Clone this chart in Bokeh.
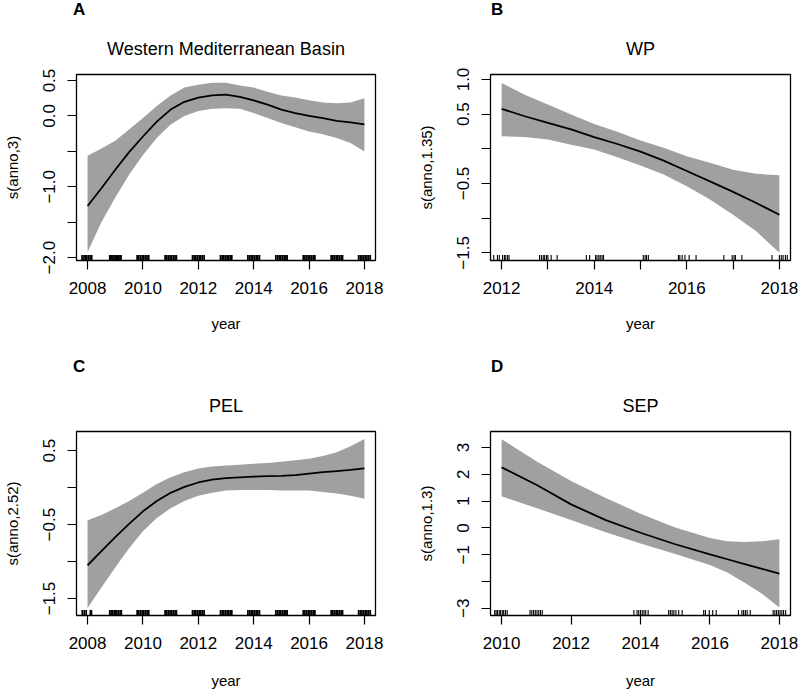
from bokeh.plotting import figure
from bokeh.models import Range1d, FixedTicker, Div, CustomJSTickFormatter
from bokeh.layouts import column, row
from bokeh.embed import file_html
from bokeh.resources import INLINE

FONT = "Liberation Sans"
BAND = "#a0a0a0"

# ---------------- Panel A: Western Mediterranean Basin ----------------
xA = [2008, 2008.5, 2009, 2009.5, 2010, 2010.5, 2011, 2011.5, 2012, 2012.5, 2013,
      2013.5, 2014, 2014.5, 2015, 2015.5, 2016, 2016.5, 2017, 2017.5, 2018]
fitA = [-1.27, -1.02, -0.76, -0.51, -0.29, -0.08, 0.09, 0.20, 0.26, 0.29, 0.30,
        0.27, 0.22, 0.16, 0.09, 0.04, 0.00, -0.03, -0.07, -0.09, -0.12]
hiA = [-0.56, -0.46, -0.35, -0.19, -0.03, 0.14, 0.29, 0.40, 0.44, 0.47, 0.47,
       0.43, 0.40, 0.34, 0.29, 0.26, 0.22, 0.19, 0.18, 0.19, 0.25]
loA = [-1.92, -1.50, -1.15, -0.83, -0.55, -0.31, -0.12, 0.00, 0.07, 0.10, 0.11,
       0.10, 0.04, -0.03, -0.10, -0.16, -0.22, -0.26, -0.31, -0.38, -0.50]
rugA = [2007.80, 2007.87, 2007.92, 2007.97, 2008.03, 2008.09, 2008.15,
        2008.80, 2008.84, 2008.88, 2008.93, 2008.99, 2009.03, 2009.07, 2009.12, 2009.17, 2009.21,
        2009.79, 2009.85, 2009.91, 2009.97, 2010.03, 2010.09, 2010.15, 2010.21,
        2010.80, 2010.86, 2010.92, 2010.98, 2011.04, 2011.10, 2011.16, 2011.21,
        2011.79, 2011.85, 2011.91, 2011.97, 2012.03, 2012.09, 2012.15, 2012.21,
        2012.80, 2012.86, 2012.92, 2012.98, 2013.04, 2013.10, 2013.16, 2013.21,
        2013.79, 2013.85, 2013.91, 2013.97, 2014.03, 2014.09, 2014.15, 2014.21,
        2014.80, 2014.86, 2014.92, 2014.98, 2015.04, 2015.10, 2015.16, 2015.21,
        2015.79, 2015.85, 2015.91, 2015.97, 2016.03, 2016.09, 2016.15, 2016.21,
        2016.80, 2016.86, 2016.92, 2016.98, 2017.04, 2017.10, 2017.16, 2017.21,
        2017.79, 2017.85, 2017.91, 2017.97, 2018.03, 2018.09, 2018.15, 2018.21]
xlimA = (2007.6, 2018.4)
ylimA = (-2.04, 0.585)
xticksA = [2008, 2010, 2012, 2014, 2016, 2018]
xlabelsA = ["2008", "2010", "2012", "2014", "2016", "2018"]
yticksA = [-2.0, -1.5, -1.0, -0.5, 0.0, 0.5]
ylabelsA = ["\u22122.0", "", "\u22121.0", "", "0.0", "0.5"]

# ---------------- Panel B: WP ----------------
xB = [2012, 2012.5, 2013, 2013.5, 2014, 2014.5, 2015, 2015.5, 2016, 2016.5, 2017, 2017.5, 2018]
fitB = [0.577, 0.47, 0.375, 0.28, 0.17, 0.07, -0.04, -0.17, -0.32, -0.47, -0.62, -0.78, -0.95]
hiB = [0.95, 0.78, 0.64, 0.495, 0.36, 0.245, 0.12, 0.015, -0.105, -0.20, -0.30, -0.36, -0.38]
loB = [0.18, 0.17, 0.135, 0.06, -0.01, -0.12, -0.24, -0.37, -0.54, -0.73, -0.95, -1.19, -1.50]
rugB = [2011.83, 2011.91, 2011.95, 2012.02, 2012.06, 2012.09, 2012.13, 2012.16,
        2012.82, 2012.86, 2012.90, 2012.93, 2012.97, 2013.00, 2013.07, 2013.20,
        2013.83, 2013.90, 2014.03, 2014.06, 2014.10, 2014.13, 2014.17, 2014.20,
        2015.06, 2015.10, 2015.13, 2015.17,
        2015.82, 2015.85, 2015.90, 2015.96, 2016.05, 2016.20,
        2016.80, 2016.98, 2017.02, 2017.05, 2017.19,
        2017.84, 2018.00, 2018.04, 2018.08, 2018.13, 2018.17]
xlimB = (2011.76, 2018.24)
ylimB = (-1.61, 1.072)
xticksB = [2012, 2013, 2014, 2015, 2016, 2017, 2018]
xlabelsB = ["2012", "", "2014", "", "2016", "", "2018"]
yticksB = [-1.5, -1.0, -0.5, 0.0, 0.5, 1.0]
ylabelsB = ["\u22121.5", "", "\u22120.5", "", "0.5", "1.0"]

# ---------------- Panel C: PEL ----------------
xC = xA
fitC = [-1.05, -0.86, -0.67, -0.49, -0.32, -0.18, -0.07, 0.01, 0.07, 0.11, 0.13,
        0.14, 0.15, 0.155, 0.16, 0.17, 0.19, 0.21, 0.225, 0.24, 0.26]
hiC = [-0.44, -0.37, -0.28, -0.18, -0.07, 0.05, 0.14, 0.21, 0.26, 0.285, 0.30,
       0.31, 0.325, 0.335, 0.35, 0.37, 0.39, 0.43, 0.48, 0.56, 0.66]
loC = [-1.63, -1.35, -1.08, -0.82, -0.59, -0.41, -0.28, -0.18, -0.11, -0.07, -0.04,
       -0.03, -0.03, -0.03, -0.04, -0.04, -0.04, -0.06, -0.08, -0.11, -0.15]
rugC = [2007.81, 2007.88, 2007.95, 2008.10, 2008.14,
        2008.80, 2008.85, 2008.90, 2008.96, 2009.01, 2009.06, 2009.12, 2009.18, 2009.22,
        2009.79, 2009.85, 2009.91, 2009.97, 2010.03, 2010.09, 2010.15, 2010.21,
        2010.80, 2010.86, 2010.92, 2010.98, 2011.04, 2011.10, 2011.16, 2011.21,
        2011.79, 2011.85, 2011.91, 2011.97, 2012.03, 2012.09, 2012.15, 2012.21,
        2012.80, 2012.86, 2012.92, 2012.98, 2013.04, 2013.10, 2013.16, 2013.21,
        2013.79, 2013.85, 2013.91, 2013.97, 2014.03, 2014.09, 2014.15, 2014.21,
        2014.80, 2014.86, 2014.92, 2014.98, 2015.04, 2015.10, 2015.16, 2015.21,
        2015.79, 2015.85, 2015.91, 2015.97, 2016.03, 2016.09, 2016.15, 2016.21,
        2016.80, 2016.86, 2016.92, 2016.98, 2017.04, 2017.10, 2017.16, 2017.21,
        2017.79, 2017.85, 2017.91, 2017.97, 2018.03, 2018.09, 2018.15, 2018.21]
xlimC = (2007.6, 2018.4)
ylimC = (-1.73, 0.76)
xticksC = xticksA
xlabelsC = xlabelsA
yticksC = [-1.5, -1.0, -0.5, 0.0, 0.5]
ylabelsC = ["\u22121.5", "", "\u22120.5", "", "0.5"]

# ---------------- Panel D: SEP ----------------
xD = [2010, 2011, 2012, 2013, 2014, 2015, 2016, 2016.5, 2017, 2017.5, 2018]
fitD = [2.26, 1.61, 0.88, 0.29, -0.18, -0.61, -0.99, -1.17, -1.35, -1.53, -1.71]
hiD = [3.31, 2.49, 1.75, 1.12, 0.53, 0.02, -0.38, -0.50, -0.53, -0.50, -0.42]
loD = [1.18, 0.74, 0.30, -0.16, -0.58, -0.97, -1.38, -1.66, -2.05, -2.46, -2.97]
rugD = [2009.80, 2009.84, 2009.88, 2009.93, 2009.97, 2010.02, 2010.06, 2010.11, 2010.16,
        2010.82, 2010.87, 2010.92, 2010.97, 2011.02, 2011.07, 2011.12, 2011.17,
        2013.81, 2013.90, 2013.95, 2014.00, 2014.05, 2014.10, 2014.15, 2014.22,
        2014.81, 2014.86, 2014.91, 2014.96, 2015.02, 2015.10, 2015.20,
        2015.82, 2015.87, 2015.98, 2016.08, 2016.18,
        2016.82, 2016.92, 2016.97, 2017.02, 2017.07, 2017.16,
        2017.82, 2017.87, 2017.92, 2017.97, 2018.02, 2018.07, 2018.12, 2018.18]
xlimD = (2009.68, 2018.32)
ylimD = (-3.27, 3.6)
xticksD = [2010, 2012, 2014, 2016, 2018]
xlabelsD = ["2010", "2012", "2014", "2016", "2018"]
yticksD = [-3, -2, -1, 0, 1, 2, 3]
ylabelsD = ["\u22123", "", "\u22121", "0", "1", "2", "3"]

LABEL_JS = """
for (let i = 0; i < t.length; i++) {
  if (Math.abs(t[i] - tick) < 1e-6) { return l[i]; }
}
return "";
"""

LETTER_H = 19


def panel(letter, title, ylab, x, fit, lo, hi, rug, xlim, ylim, xticks, xlabels,
          yticks, ylabels, width, height, mb, ylab_standoff, xlab_standoff, rug_w):
    p = figure(width=width, height=height - LETTER_H, x_range=Range1d(*xlim),
               y_range=Range1d(*ylim),
               output_backend="svg", toolbar_location=None, title=title,
               min_border_left=mb[0], min_border_right=mb[1],
               min_border_top=mb[2] - LETTER_H, min_border_bottom=mb[3])
    p.title.align = "center"
    p.title.text_font = FONT
    p.title.text_font_size = "18px"
    p.title.text_font_style = "normal"
    p.title.text_color = "black"
    p.title.standoff = 32

    p.varea(x=x, y1=lo, y2=hi, fill_color=BAND, fill_alpha=1.0)
    p.line(x=x, y=fit, line_color="black", line_width=1.8)
    r0 = ylim[0]
    r1 = ylim[0] + 0.03 * (ylim[1] - ylim[0])
    p.segment(x0=rug, x1=rug, y0=[r0] * len(rug), y1=[r1] * len(rug),
              line_color="black", line_width=rug_w)

    p.xgrid.visible = False
    p.ygrid.visible = False
    p.outline_line_color = "black"
    p.outline_line_width = 1.3
    p.background_fill_color = "white"
    p.border_fill_color = "white"

    for ax in (p.xaxis[0], p.yaxis[0]):
        ax.axis_line_color = None
        ax.major_tick_out = 9
        ax.major_tick_in = 0
        ax.major_tick_line_color = "black"
        ax.major_tick_line_width = 1.2
        ax.minor_tick_line_color = None
        ax.major_label_text_font = FONT
        ax.major_label_text_font_size = "17px"
        ax.major_label_text_color = "black"
        ax.axis_label_text_font = FONT
        ax.axis_label_text_font_size = "15px"
        ax.axis_label_text_font_style = "normal"
        ax.axis_label_text_color = "black"

    xa = p.xaxis[0]
    xa.ticker = FixedTicker(ticks=xticks)
    xa.formatter = CustomJSTickFormatter(args=dict(t=xticks, l=xlabels), code=LABEL_JS)
    xa.major_label_standoff = 12
    xa.axis_label = "year"
    xa.axis_label_standoff = xlab_standoff

    ya = p.yaxis[0]
    ya.ticker = FixedTicker(ticks=yticks)
    ya.formatter = CustomJSTickFormatter(args=dict(t=yticks, l=ylabels), code=LABEL_JS)
    ya.major_label_orientation = "vertical"
    ya.major_label_standoff = 12
    ya.axis_label = ylab
    ya.axis_label_standoff = ylab_standoff

    head = Div(text=letter, width=width, height=LETTER_H, margin=0,
               styles={"font-family": FONT, "font-size": "17px", "font-weight": "bold",
                       "color": "black", "line-height": f"{LETTER_H + 1}px",
                       "padding-left": f"{mb[0] + 1}px", "box-sizing": "border-box"})
    return column(head, p, spacing=0)


pA = panel("A", "Western Mediterranean Basin", "s(anno,3)", xA, fitA, loA, hiA, rugA,
           xlimA, ylimA, xticksA, xlabelsA, yticksA, ylabelsA,
           408, 357, (72, 33, 74, 97), 20, 18, 1.7)
pB = panel("B", "WP", "s(anno,1.35)", xB, fitB, loB, hiB, rugB,
           xlimB, ylimB, xticksB, xlabelsB, yticksB, ylabelsB,
           390, 357, (82, 8, 74, 97), 20, 18, 1.1)
pC = panel("C", "PEL", "s(anno,2.52)", xC, fitC, loC, hiC, rugC,
           xlimC, ylimC, xticksC, xlabelsC, yticksC, ylabelsC,
           408, 334, (72, 33, 74, 75), 20, 20, 1.7)
pD = panel("D", "SEP", "s(anno,1.3)", xD, fitD, loD, hiD, rugD,
           xlimD, ylimD, xticksD, xlabelsD, yticksD, ylabelsD,
           390, 334, (82, 8, 74, 75), 20, 20, 1.1)

layout = column(row(pA, pB, spacing=0), row(pC, pD, spacing=0), spacing=0)
open("out.html", "w").write(file_html(layout, INLINE))
